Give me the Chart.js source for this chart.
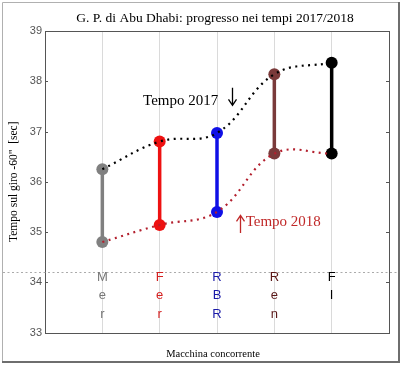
<!DOCTYPE html>
<html><head><meta charset="utf-8">
<script src="https://cdn.jsdelivr.net/npm/chart.js@4/dist/chart.umd.min.js"></script>
<style>html,body{margin:0;padding:0;background:#fff}#wrap{width:402px;height:365px}</style>
</head><body><div id="wrap"><canvas id="c" width="402" height="365"></canvas></div>
<script>
const teams = ['Mer','Fer','RBR','Ren','FI'];
const teamPos = [1,2,3,4,5];
const t2017 = [36.25, 36.80, 36.97, 38.14, 38.37];
const t2018 = [34.80, 35.14, 35.40, 36.56, 36.56];
const teamColors = ['#808080','#ee1111','#1010e6','#7a3a3a','#000000'];
const labelColors = ['#777777','#d42020','#1a1aa8','#5a1818','#000000'];
const refLine = 34.2;
const yTicks = [33,34,35,36,37,38,39];

const datasets = [];
datasets.push({data: teamPos.map((x,i)=>({x, y:t2017[i]})), borderColor:'#000', borderWidth:2.2,
  borderDash:[2,4.5], pointRadius:0, tension:0.4, order:0});
datasets.push({data: teamPos.map((x,i)=>({x, y:t2018[i]})), borderColor:'#b3202e', borderWidth:2.2,
  borderDash:[2,4.5], pointRadius:0, tension:0.4, order:0});
teams.forEach((t,i)=>{
  datasets.push({data:[{x:teamPos[i],y:t2018[i]},{x:teamPos[i],y:t2017[i]}],
    borderColor:teamColors[i], backgroundColor:teamColors[i], borderWidth:3.5,
    pointRadius:6, pointBackgroundColor:teamColors[i], pointBorderWidth:0, order:1});
});

function arrow(ctx, x, y1, y2, color){
  // line from y1 to y2, head at y2
  const dir = Math.sign(y2-y1);
  ctx.strokeStyle=color; ctx.lineWidth=1.3;
  ctx.beginPath(); ctx.moveTo(x,y1); ctx.lineTo(x,y2);
  ctx.moveTo(x-4,y2-dir*6); ctx.lineTo(x,y2); ctx.lineTo(x+4,y2-dir*6);
  ctx.stroke();
}

const deco = {
  id:'deco',
  beforeDraw(chart){
    const ctx = chart.ctx;
    ctx.save();
    ctx.fillStyle='#fff'; ctx.fillRect(0,0,chart.width,chart.height);
    ctx.restore();
  },
  afterDraw(chart){
    const ctx = chart.ctx, a = chart.chartArea, xs = chart.scales.x, ys = chart.scales.y;
    ctx.save();
    // plot frame
    ctx.strokeStyle='#555'; ctx.lineWidth=1;
    ctx.strokeRect(Math.round(a.left)+0.5, Math.round(a.top)+0.5, Math.round(a.right-a.left), Math.round(a.bottom-a.top));
    // inward ticks left/right
    yTicks.forEach(v=>{
      const y = Math.round(ys.getPixelForValue(v))+0.5;
      ctx.beginPath();
      ctx.moveTo(a.left, y); ctx.lineTo(a.left+3, y);
      ctx.moveTo(a.right, y); ctx.lineTo(a.right-3, y);
      ctx.stroke();
    });
    // reference dotted line across full width
    const ry = Math.round(ys.getPixelForValue(refLine))+0.5;
    ctx.strokeStyle='#aaaaaa'; ctx.setLineDash([2,2.5]); ctx.lineWidth=1;
    ctx.beginPath(); ctx.moveTo(3,ry); ctx.lineTo(398,ry); ctx.stroke();
    ctx.setLineDash([]);
    // category labels stacked vertically
    ctx.font='13px "Liberation Sans", Arial, sans-serif';
    ctx.textAlign='center'; ctx.textBaseline='middle';
    teams.forEach((t,i)=>{
      const x = xs.getPixelForValue(teamPos[i]);
      ctx.fillStyle=labelColors[i];
      [...t].forEach((ch,k)=>{ ctx.fillText(ch, x, ys.getPixelForValue(refLine)+5+k*18.5); });
    });
    // annotations
    ctx.textAlign='left'; ctx.textBaseline='alphabetic';
    ctx.font='15px "Liberation Serif", "Times New Roman", serif';
    ctx.fillStyle='#000';
    ctx.fillText('Tempo 2017', xs.getPixelForValue(1.71), ys.getPixelForValue(37.53));
    arrow(ctx, Math.round(xs.getPixelForValue(3.27))+0.5, ys.getPixelForValue(37.87), ys.getPixelForValue(37.52), '#000');
    ctx.fillStyle='#c02828';
    arrow(ctx, Math.round(xs.getPixelForValue(3.40))+0.5, ys.getPixelForValue(34.98), ys.getPixelForValue(35.33), '#c02828');
    ctx.fillText('Tempo 2018', xs.getPixelForValue(3.5), ys.getPixelForValue(35.12));
    // title
    ctx.fillStyle='#000'; ctx.textAlign='center';
    ctx.font='13.5px "Liberation Serif", "Times New Roman", serif';
    ctx.fillText('G. P. di Abu Dhabi: progresso nei tempi 2017/2018', (a.left+a.right)/2 - 2, 22);
    // x title
    ctx.font='10.5px "Liberation Serif", "Times New Roman", serif';
    ctx.fillText('Macchina concorrente', (a.left+a.right)/2 - 4, 357);
    // y title
    ctx.save();
    ctx.translate(17, (a.top+a.bottom)/2);
    ctx.rotate(-Math.PI/2);
    ctx.font='11.5px "Liberation Serif", "Times New Roman", serif';
    ctx.fillText('Tempo sul giro -60"  [sec]', 0, 0);
    ctx.restore();
    // outer frame
    ctx.strokeStyle='#b0b0b0'; ctx.lineWidth=1;
    ctx.beginPath(); ctx.moveTo(2.5,362); ctx.lineTo(2.5,2.5); ctx.lineTo(399,2.5); ctx.stroke();
    ctx.strokeStyle='#6e6e6e'; ctx.lineWidth=2;
    ctx.beginPath(); ctx.moveTo(399,2); ctx.lineTo(399,362); ctx.lineTo(2,362); ctx.stroke();
    ctx.restore();
  }
};

new Chart(document.getElementById('c'), {
  type:'line',
  data:{datasets},
  options:{
    responsive:false, animation:false, devicePixelRatio:1,
    layout:{padding:{left:0, top:31, right:13, bottom:0}},
    plugins:{legend:{display:false}, tooltip:{enabled:false}, title:{display:false}},
    scales:{
      x:{type:'linear', min:0, max:6,
        ticks:{display:false, stepSize:1},
        grid:{color:'#dadada', drawTicks:false, lineWidth:1},
        border:{display:false},
        afterFit(s){ s.height = 32.5; }
      },
      y:{type:'linear', min:33, max:39,
        afterBuildTicks(s){ s.ticks = yTicks.map(v=>({value:v})); },
        ticks:{font:{family:'"Liberation Sans", Arial, sans-serif', size:11}, color:'#555', padding:3},
        grid:{display:false, drawTicks:false},
        border:{display:false},
        afterFit(s){ s.width = 45; }
      }
    }
  },
  plugins:[deco]
});
</script></body></html>
